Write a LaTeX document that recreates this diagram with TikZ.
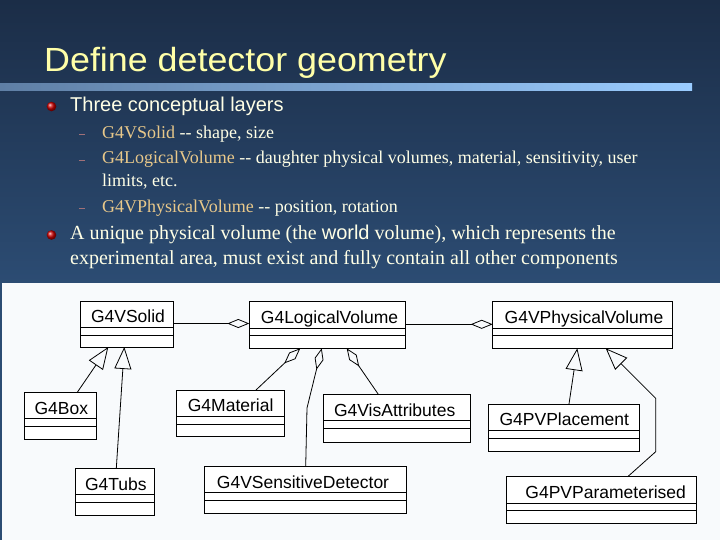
\documentclass[tikz,border=0pt]{standalone}
\usepackage{fontspec}
\setmainfont{Liberation Serif}
\newfontfamily\arialf{Liberation Sans}
\newfontfamily\titlef[FakeStretch=1.07]{Liberation Sans}
\usetikzlibrary{arrows.meta,calc,shadings}
\definecolor{bgtop}{HTML}{1B2D47}
\definecolor{bgbot}{HTML}{2C4C73}
\definecolor{titlecol}{HTML}{FFFFA8}
\definecolor{txtcol}{HTML}{FFFFE6}
\definecolor{goldcol}{HTML}{E8C88A}
\definecolor{dashcol}{HTML}{A07078}
\definecolor{barleft}{HTML}{5F7FA5}
\definecolor{barright}{HTML}{9ACCFF}
\definecolor{paper}{HTML}{F8FAFC}
\newcommand\dividers[1]{%
  \draw[divline] ($(#1.north west)+(0,26.5)$) -- ($(#1.north east)+(0,26.5)$);
  \draw[divline] ($(#1.north west)+(0,34)$) -- ($(#1.north east)+(0,34)$);}
\begin{document}
\begin{tikzpicture}[x=1pt,y=-1pt,
  cls/.style={draw=black, line width=0.9pt, fill=white, inner sep=0pt, outer sep=0pt, anchor=north west},
  divline/.style={line width=0.9pt},
  lbl/.style={font=\arialf\fontsize{17.5}{20}\selectfont, anchor=base, inner sep=0pt},
  txt/.style={anchor=base west, inner sep=0pt, text=txtcol},
  agg/.style={draw, line width=0.8pt, -{Diamond[open, length=22pt, width=9pt]}},
  inh/.style={draw, line width=0.8pt, -{Triangle[open, length=22pt, width=17pt]}},
  dsh/.style={draw=dashcol, line width=1.4pt}]
\useasboundingbox (0,0) rectangle (720,540);
% background
\shade[top color=bgtop, bottom color=bgbot] (0,0) rectangle (720,283);
\fill[bgbot] (0,283) rectangle (720,540);
\fill[paper] (1.5,283) rectangle (720,540);
% title and bar
\node[anchor=base west, inner sep=0pt, text=titlecol, font=\titlef\fontsize{33.5}{40}\selectfont] (title) at (44,72) {Define detector geometry};
\shade[left color=barleft, right color=barright] (0,84) rectangle (692,90.5);
% bullets
\shade[ball color=red!80!black] (51.5,106.5) circle (4.8);
\shade[ball color=red!80!black] (51.5,235) circle (4.8);
\node[txt, font=\arialf\fontsize{20}{22}\selectfont] (b1) at (70,112) {Three conceptual layers};
\draw[dsh] (79,134.5) -- (85,134.5);
\draw[dsh] (79,160.5) -- (85,160.5);
\draw[dsh] (79,208.5) -- (85,208.5);
\node[txt, font=\fontsize{18}{21}\selectfont] (s1) at (102,138.3) {\textcolor{goldcol}{G4VSolid} {-}{-} shape, size};
\node[txt, font=\fontsize{18}{21}\selectfont] (s2) at (102,164) {\textcolor{goldcol}{G4LogicalVolume} {-}{-} daughter physical volumes, material, sensitivity, user};
\node[txt, font=\fontsize{18}{21}\selectfont] (s2b) at (102,186.7) {limits, etc.};
\node[txt, font=\fontsize{18}{21}\selectfont] (s3) at (102,212.7) {\textcolor{goldcol}{G4VPhysicalVolume} {-}{-} position, rotation};
\node[txt, font=\fontsize{20}{22}\selectfont] (b2) at (70,240) {A unique physical volume (the {\arialf world} volume), which represents the};
\node[txt, font=\fontsize{20}{22}\selectfont] (b2b) at (70,264) {experimental area, must exist and fully contain all other components};
% class boxes
\node[cls, minimum width=93pt, minimum height=46pt] (solid) at (80,301) {};
\node[cls, minimum width=156.4pt, minimum height=46.6pt] (lv) at (249.3,301.7) {};
\node[cls, minimum width=179.6pt, minimum height=46.6pt] (pv) at (492.7,301.7) {};
\node[cls, minimum width=72pt, minimum height=47pt] (box) at (24.3,392.3) {};
\node[cls, minimum width=79pt, minimum height=46.7pt] (tubs) at (75.3,468.3) {};
\node[cls, minimum width=108.3pt, minimum height=46.7pt] (mat) at (176,390) {};
\node[cls, minimum width=202.4pt, minimum height=47.3pt] (sd) at (204.3,466) {};
\node[cls, minimum width=146.7pt, minimum height=48pt] (vis) at (323.3,394.3) {};
\node[cls, minimum width=151pt, minimum height=47pt] (plc) at (488.3,404) {};
\node[cls, minimum width=190pt, minimum height=46.6pt] (par) at (506.7,476.7) {};
\dividers{solid}\dividers{lv}\dividers{pv}\dividers{box}\dividers{tubs}
\dividers{mat}\dividers{sd}\dividers{vis}\dividers{plc}\dividers{par}
\node[lbl] (solid-l) at ($(solid.north)+(1.5,21.5)$) {G4VSolid};
\node[lbl] (lv-l) at ($(lv.north)+(2,22)$) {G4LogicalVolume};
\node[lbl] (pv-l) at ($(pv.north)+(1.5,22)$) {G4VPhysicalVolume};
\node[lbl] (box-l) at ($(box.north)+(1,22.5)$) {G4Box};
\node[lbl] (tubs-l) at ($(tubs.north)+(1,22.4)$) {G4Tubs};
\node[lbl] (mat-l) at ($(mat.north)+(0.5,21)$) {G4Material};
\node[lbl] (sd-l) at ($(sd.north)+(-2.5,22.3)$) {G4VSensitiveDetector};
\node[lbl] (vis-l) at ($(vis.north)+(-2,22.4)$) {G4VisAttributes};
\node[lbl] (plc-l) at ($(plc.north)+(0.5,21.7)$) {G4PVPlacement};
\node[lbl] (par-l) at ($(par.north)+(4,21.6)$) {G4PVParameterised};
% connectors
\coordinate (sdbend) at (307,408);
\coordinate (pb1) at (655.7,451.7);
\coordinate (pb2) at (655.7,398.3);
\draw[agg] (solid.east |- 0,323.5) -- (lv.west |- 0,323.5);
\draw[agg] (lv.east |- 0,324.3) -- (pv.west |- 0,324.3);
\draw[inh] ($(box.north west)+(53,0)$) -- ($(solid.south west)+(28.3,0)$);
\draw[inh] ($(tubs.north west)+(41,0)$) -- ($(solid.south west)+(44.3,0)$);
\draw[agg] ($(mat.north west)+(80,0)$) -- ($(lv.south west)+(51,0)$);
\draw[agg] ($(sd.north west)+(101.4,0)$) -- (sdbend) -- ($(lv.south west)+(72.4,0)$);
\draw[agg] ($(vis.north west)+(55,0)$) -- ($(lv.south west)+(97.4,0)$);
\draw[inh] ($(plc.north west)+(80.7,0)$) -- ($(pv.south west)+(84.6,0)$);
\draw[inh] ($(par.north west)+(121,0)$) -- (pb1) -- (pb2) -- ($(pv.south west)+(113,0)$);
\end{tikzpicture}
\end{document}
